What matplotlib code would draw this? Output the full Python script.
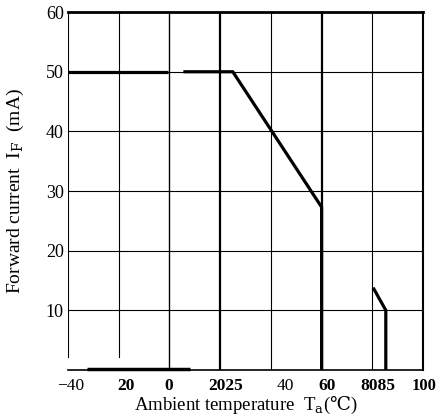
import matplotlib
matplotlib.use("Agg")
import matplotlib.pyplot as plt

# derating curve
seg1_x = [-40, -0.5]
seg1_y = [50, 50]
seg2_x = [5.5, 25, 60, 60]
seg2_y = [50, 50, 27.3, 0]
seg3_x = [80.3, 85.3, 85.3]
seg3_y = [13.8, 10, 0]

# label positions as printed (slightly off the grid in the scan)
xticks = [-38.8, -17.1, -0.3, 22.3, 45.5, 62.1, 82.3]
xticklabels = ["\u221240", "20", "0", "2025", "40", "60", "8085"]
last_xtick = 100.3
last_xticklabel = "100"
yticks = [10, 20, 30, 40, 50, 60]

plt.rcParams['font.family'] = ['Liberation Serif', 'DejaVu Serif']
plt.rcParams['mathtext.fontset'] = 'custom'
plt.rcParams['mathtext.rm'] = 'DejaVu Serif'

fig = plt.figure(figsize=(4.38, 4.18), dpi=100)
ax = fig.add_axes([0.155, 0.115, 0.811, 0.856])

# grid
for yv in [10, 20, 30, 40, 50]:
    ax.axhline(yv, color='black', lw=0.8, zorder=1)
ax.axvline(-20, ymin=0.035, color='black', lw=0.8, zorder=1)
ax.axvline(0, color='black', lw=1.0, zorder=1)
ax.axvline(20, color='black', lw=1.6, zorder=1)
ax.axvline(40, color='black', lw=0.8, zorder=1)
ax.axvline(60, color='black', lw=1.6, zorder=1)
ax.axvline(80, color='black', lw=0.8, zorder=1)

# curve
for xs, ys in [(seg1_x, seg1_y), (seg2_x, seg2_y), (seg3_x, seg3_y)]:
    ax.plot(xs, ys, color='black', lw=2.3, solid_capstyle='butt', zorder=3)

# frame
ax.spines['top'].set_linewidth(2.0)
ax.spines['right'].set_linewidth(1.5)
ax.spines['bottom'].set_linewidth(1.2)
ax.spines['left'].set_visible(False)
ax.axvline(-40, ymin=0.035, color='black', lw=1.5, zorder=2)
ax.plot([-32.5, 8], [0.15, 0.15], color='black', lw=2.5, solid_capstyle='butt',
        clip_on=False, zorder=3)

ax.set_xticks(xticks)
ax.set_xticklabels(xticklabels, fontweight='bold', fontsize=12.5)
for lab in ax.get_xticklabels():
    if lab.get_text() in ("\u221240", "40"):
        lab.set_fontweight('normal')
ax.set_yticks(yticks)
ax.set_yticklabels([str(v) for v in yticks], fontsize=13)
ax.tick_params(length=0, pad=6)
ax.tick_params(axis='y', pad=3)
ax.set_xlim(-40, 100)
ax.set_ylim(0, 60)

# "100" sits at the right edge in the scan
ax.annotate(last_xticklabel, xy=(last_xtick, 0), xycoords=('data', 'axes fraction'),
            xytext=(0, -6), textcoords='offset points', ha='center', va='top',
            fontsize=12, fontweight='bold', annotation_clip=False)

ax.set_xlabel("Ambient temperature  T$_\\mathrm{a}$($\\mathrm{\u2103}$)", fontsize=13.5, labelpad=0)
ax.set_ylabel("Forward current  I$_\\mathrm{F}$  (mA)", fontsize=14, labelpad=14)

fig.savefig("out.png", dpi=100)
